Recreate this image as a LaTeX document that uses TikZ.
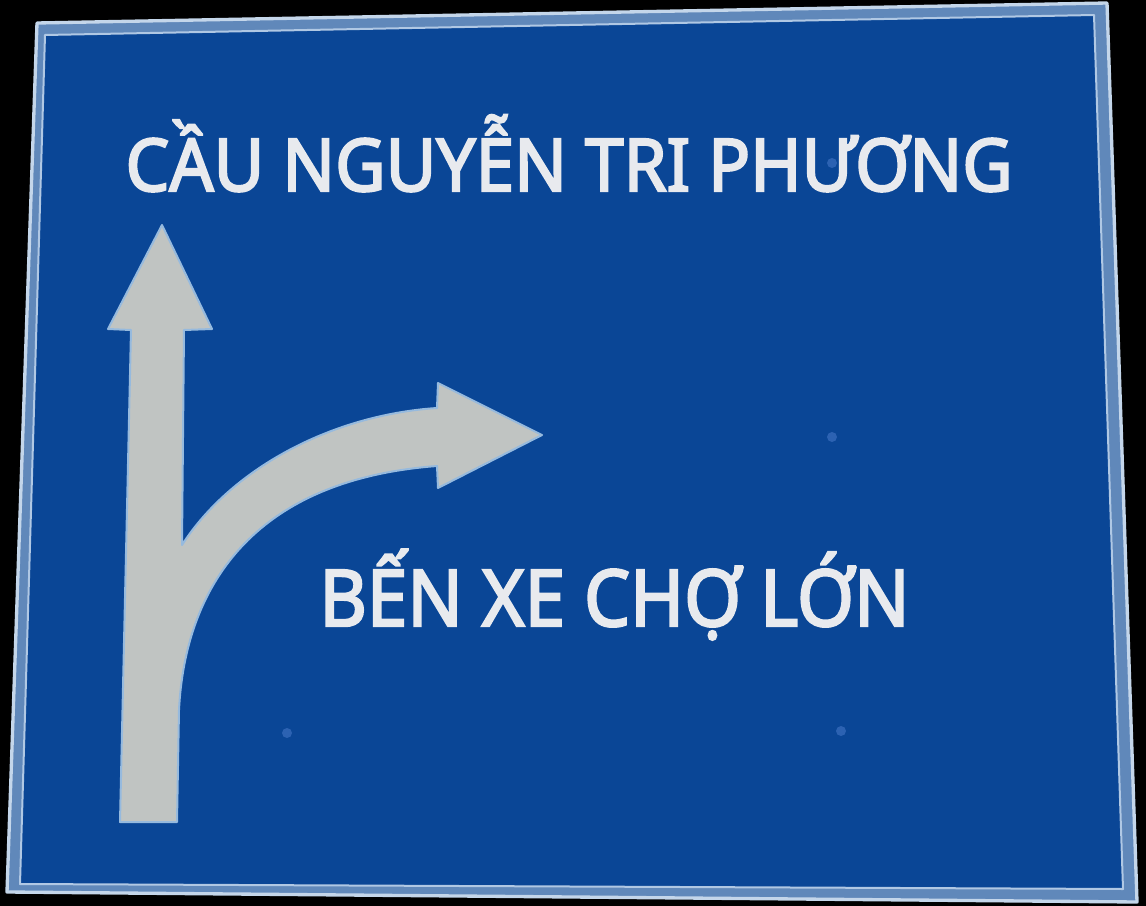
\documentclass[tikz,border=0pt]{standalone}
\usepackage{graphicx}
\usepackage{fontspec}
\newfontfamily\signfont{Noto Sans}[FakeBold=3]

\tikzset{every picture/.style={line width=0.75pt}}
\tikzset{
  rivet/.style={fill={rgb, 255:red, 44; green, 98; blue, 178 }, draw=none},
  signtext/.style={anchor=base west, inner sep=0pt, color={rgb, 255:red, 232; green, 234; blue, 238 }},
}

\begin{document}
\begin{tikzpicture}[x=0.75pt,y=0.75pt,yscale=-1,xscale=1]
\useasboundingbox (0,0) rectangle (1146,906);

%Shape: Rectangle [background]
\fill [color={rgb, 255:red, 0; green, 0; blue, 0 }] (0,0) rectangle (1146,906);
%Shape: Polygon [plate rim]
\draw [color={rgb, 255:red, 196; green, 214; blue, 234 }, line width=2.5, fill={rgb, 255:red, 96; green, 136; blue, 186 }, line join=round] (37,23) -- (1107,3) -- (1137,902) -- (7,892) -- cycle ;
%Shape: Polygon [blue face]
\draw [color={rgb, 255:red, 176; green, 200; blue, 228 }, line width=1.5, fill={rgb, 255:red, 10; green, 70; blue, 150 }, line join=round] (45,35) -- (1094,15) -- (1123,889) -- (20,884) -- cycle ;

%Shape: Circle [rivets]
\fill [rivet] (832,163) circle (5) ;
\fill [rivet] (832,437) circle (5) ;
\fill [rivet] (287,733) circle (5) ;
\fill [rivet] (841,731) circle (5) ;

%Shape: Polygon [arrow]
\draw [color={rgb, 255:red, 150; green, 186; blue, 222 }, line width=1.5, fill={rgb, 255:red, 192; green, 196; blue, 194 }, line join=round]
  (120,822) -- (131,330) -- (108,329) -- (162,225) -- (212,329) -- (184,330) -- (182,545)
  .. controls (230,470) and (330,415) .. (437,408)
  -- (438,383) -- (542,435) -- (438,488) -- (437,466)
  .. controls (250,480) and (185,590) .. (179,710)
  -- (177,822) -- cycle ;

% Text Node
\node [signtext, font=\signfont\fontsize{54.6}{60}\selectfont] (bridge) at (125,191) {\scalebox{0.953}[1]{CẦU NGUYỄN TRI PHƯƠNG}};
% Text Node
\node [signtext, font=\signfont\fontsize{58.8}{64}\selectfont] (busstation) at (319,626) {\scalebox{0.93}[1]{BẾN XE CHỢ LỚN}};

\end{tikzpicture}
\end{document}
